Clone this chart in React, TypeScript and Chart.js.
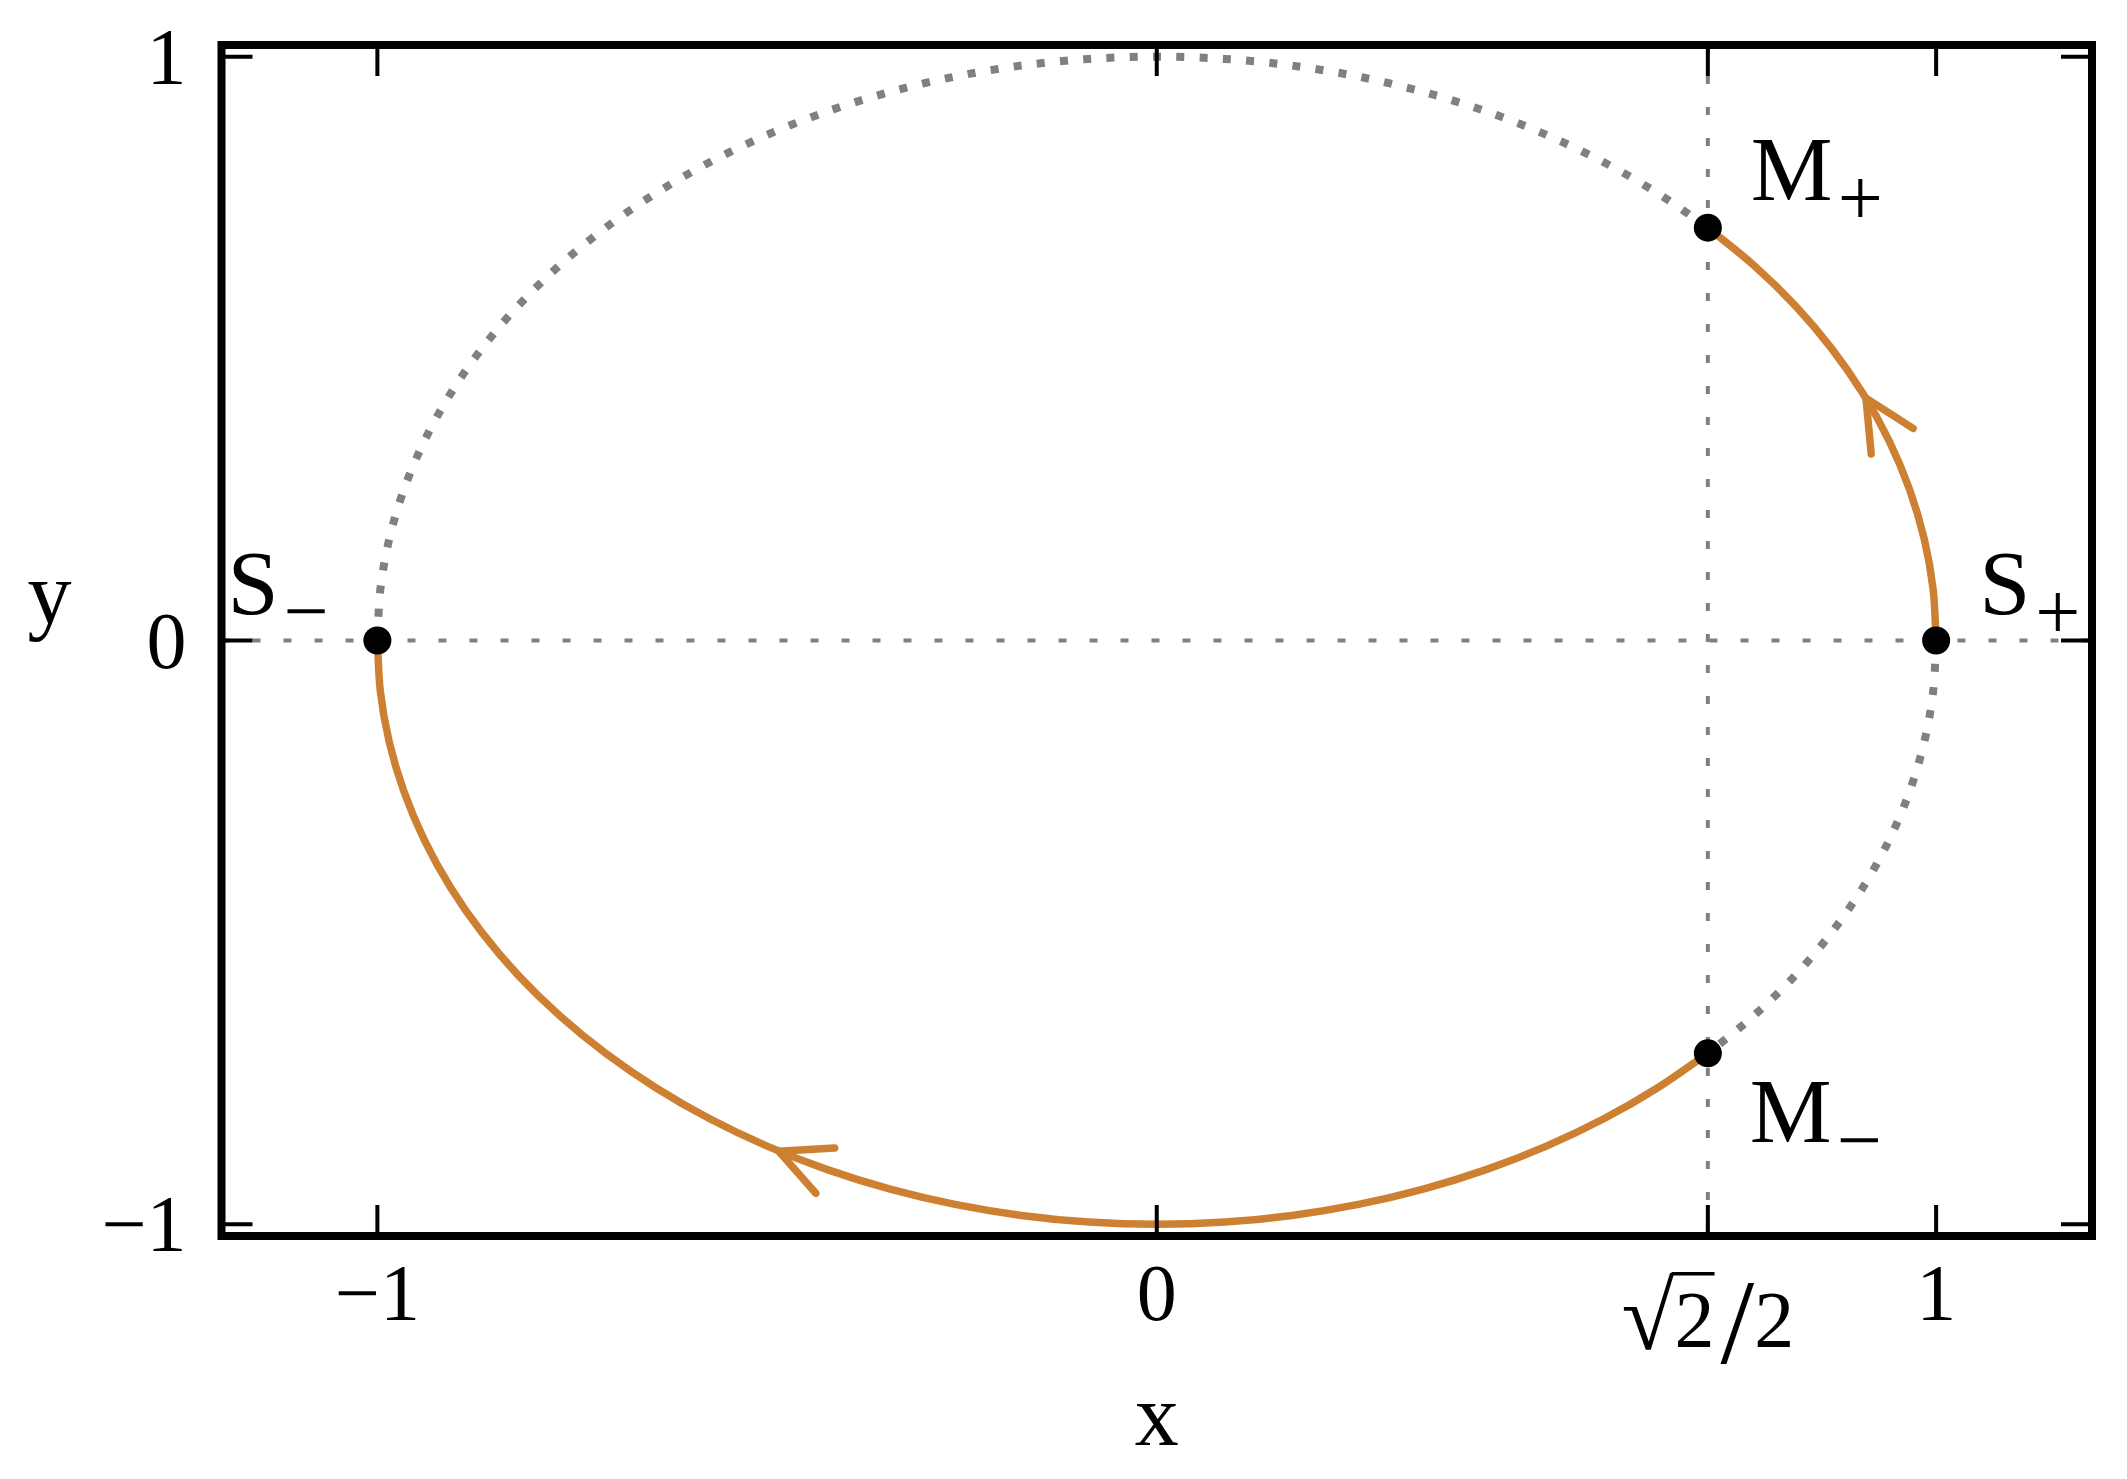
import React, { useEffect, useRef } from "react";
import { Chart, registerables } from "chart.js";

Chart.register(...registerables);

const W = 2127;
const H = 1479;

// ---------- data ----------
// orange trajectory S+ -> M+
const orangeUpperX = [1, 0.9962, 0.9848, 0.9659, 0.9397, 0.9063, 0.866, 0.8192, 0.766, 0.7071];
const orangeUpperY = [0, 0.0872, 0.1736, 0.2588, 0.342, 0.4226, 0.5, 0.5736, 0.6428, 0.7071];
// orange trajectory M- -> S-
const orangeLowerX = [
  0.7071, 0.6428, 0.5736, 0.5, 0.4226, 0.342, 0.2588, 0.1736, 0.0872, 0, -0.0872, -0.1736, -0.2588, -0.342,
  -0.4226, -0.5, -0.5736, -0.6428, -0.7071, -0.766, -0.8192, -0.866, -0.9063, -0.9397, -0.9659, -0.9848, -0.9962, -1,
];
const orangeLowerY = [
  -0.7071, -0.766, -0.8192, -0.866, -0.9063, -0.9397, -0.9659, -0.9848, -0.9962, -1, -0.9962, -0.9848, -0.9659,
  -0.9397, -0.9063, -0.866, -0.8192, -0.766, -0.7071, -0.6428, -0.5736, -0.5, -0.4226, -0.342, -0.2588, -0.1736,
  -0.0872, 0,
];
// dotted circle M+ -> S-
const dottedUpperX = [
  0.7071, 0.6428, 0.5736, 0.5, 0.4226, 0.342, 0.2588, 0.1736, 0.0872, 0, -0.0872, -0.1736, -0.2588, -0.342,
  -0.4226, -0.5, -0.5736, -0.6428, -0.7071, -0.766, -0.8192, -0.866, -0.9063, -0.9397, -0.9659, -0.9848, -0.9962, -1,
];
const dottedUpperY = [
  0.7071, 0.766, 0.8192, 0.866, 0.9063, 0.9397, 0.9659, 0.9848, 0.9962, 1, 0.9962, 0.9848, 0.9659, 0.9397, 0.9063,
  0.866, 0.8192, 0.766, 0.7071, 0.6428, 0.5736, 0.5, 0.4226, 0.342, 0.2588, 0.1736, 0.0872, 0,
];
// dotted circle S+ -> M-
const dottedLowerX = [1, 0.9962, 0.9848, 0.9659, 0.9397, 0.9063, 0.866, 0.8192, 0.766, 0.7071];
const dottedLowerY = [0, -0.0872, -0.1736, -0.2588, -0.342, -0.4226, -0.5, -0.5736, -0.6428, -0.7071];

// fixed points
const pointX = [1, 0.7071, -1, 0.7071];
const pointY = [0, 0.7071, 0, -0.7071];
const pointNames = ["S", "M", "S", "M"];
const pointSubs = ["+", "+", "\u2212", "\u2212"];

// arrow tips on the trajectories (sense: +1 counter-clockwise, -1 clockwise)
const arrowX = [0.91, -0.485];
const arrowY = [0.415, -0.875];
const arrowSense = [1, -1];

// reference lines
const refLineY = 0;
const refLineX = 0.7071;

// axes
const X_MIN = -1.2;
const X_MAX = 1.2;
const Y_MIN = -1.02;
const Y_MAX = 1.02;
const xTickValues = [-1, 0, 0.7071, 1];
const xTickLabels = ["\u22121", "0", "SQRT", "1"];
const yTickValues = [-1, 0, 1];
const yTickLabels = ["\u22121", "0", "1"];
const xAxisTitle = "x";
const yAxisTitle = "y";

// ---------- styles ----------
const ORANGE = "rgb(205,128,50)";
const GRAY = "rgb(128,128,128)";
const FONT = '"Liberation Serif", "DejaVu Serif", serif';
const TICK_FONT = 80;
const LABEL_OFFSETS = [
  { dx: 43, dy: -27 },
  { dx: 43, dy: -28 },
  { dx: -150, dy: -27 },
  { dx: 42, dy: 89 },
];

const pts = (xs: number[], ys: number[]) => xs.map((x, i) => ({ x, y: ys[i] }));

function drawSqrtLabel(ctx: CanvasRenderingContext2D, cx: number, baseline: number) {
  ctx.save();
  ctx.textAlign = "left";
  ctx.textBaseline = "alphabetic";
  ctx.font = `${TICK_FONT}px ${FONT}`;
  const w2 = ctx.measureText("2").width;
  // radical
  ctx.font = `100px ${FONT}`;
  const m0 = ctx.measureText("\u221A");
  const h0 = m0.actualBoundingBoxAscent + m0.actualBoundingBoxDescent;
  const rs = (100 * 78) / h0;
  ctx.font = `${rs}px ${FONT}`;
  const mr = ctx.measureText("\u221A");
  const wR = mr.actualBoundingBoxRight;
  // slash
  ctx.font = `100px ${FONT}`;
  const s0 = ctx.measureText("/");
  const hs0 = s0.actualBoundingBoxAscent + s0.actualBoundingBoxDescent;
  const ss = (100 * 81) / hs0;
  ctx.font = `${ss}px ${FONT}`;
  const ms = ctx.measureText("/");
  const wS = ms.width;

  const total = wR + w2 + 6 + wS + w2;
  let x = cx - total / 2;
  ctx.font = `${rs}px ${FONT}`;
  const radBase = baseline + 3 - mr.actualBoundingBoxDescent;
  ctx.fillText("\u221A", x, radBase);
  const topY = radBase - mr.actualBoundingBoxAscent;
  x += wR;
  ctx.fillRect(x - 3, topY, w2 + 3, 3.5);
  ctx.font = `${TICK_FONT}px ${FONT}`;
  ctx.fillText("2", x, baseline);
  x += w2 + 6;
  ctx.font = `${ss}px ${FONT}`;
  const slashBase = baseline + 17 - ms.actualBoundingBoxDescent;
  ctx.fillText("/", x, slashBase);
  x += wS;
  ctx.font = `${TICK_FONT}px ${FONT}`;
  ctx.fillText("2", x, baseline);
  ctx.restore();
}

export default function App() {
  const ref = useRef<HTMLCanvasElement>(null);

  useEffect(() => {
    const canvas = ref.current;
    if (!canvas) return;

    const decor = {
      id: "decor",
      afterDatasetsDraw(chart: any) {
        const ctx: CanvasRenderingContext2D = chart.ctx;
        const xs = chart.scales.x;
        const ys = chart.scales.y;
        ctx.save();
        ctx.strokeStyle = ORANGE;
        ctx.lineWidth = 7.5;
        ctx.lineCap = "round";
        arrowX.forEach((x, i) => {
          const y = arrowY[i];
          const s = arrowSense[i];
          const dx = -y * s;
          const dy = x * s;
          const tx = xs.getPixelForValue(x);
          const ty = ys.getPixelForValue(y);
          const ux = xs.getPixelForValue(x + dx * 0.01) - tx;
          const uy = ys.getPixelForValue(y + dy * 0.01) - ty;
          const L = Math.hypot(ux, uy);
          const bx = -ux / L;
          const by = -uy / L;
          ctx.beginPath();
          for (const deg of [26, -26]) {
            const a = (deg * Math.PI) / 180;
            const rx = bx * Math.cos(a) - by * Math.sin(a);
            const ry = bx * Math.sin(a) + by * Math.cos(a);
            ctx.moveTo(tx, ty);
            ctx.lineTo(tx + 56 * rx, ty + 56 * ry);
          }
          ctx.stroke();
        });
        ctx.restore();
      },
      afterDraw(chart: any) {
        const ctx: CanvasRenderingContext2D = chart.ctx;
        const { left, right, top, bottom } = chart.chartArea;
        const xs = chart.scales.x;
        const ys = chart.scales.y;
        ctx.save();
        // frame
        ctx.strokeStyle = "#000";
        ctx.lineWidth = 8;
        ctx.lineJoin = "miter";
        ctx.strokeRect(left, top, right - left, bottom - top);
        // ticks
        ctx.lineWidth = 4;
        ctx.beginPath();
        xTickValues.forEach((v) => {
          const px = xs.getPixelForValue(v);
          ctx.moveTo(px, bottom);
          ctx.lineTo(px, bottom - 31);
          ctx.moveTo(px, top);
          ctx.lineTo(px, top + 31);
        });
        yTickValues.forEach((v) => {
          const py = ys.getPixelForValue(v);
          ctx.moveTo(left, py);
          ctx.lineTo(left + 31, py);
          ctx.moveTo(right, py);
          ctx.lineTo(right - 31, py);
        });
        ctx.stroke();

        // tick labels
        ctx.fillStyle = "#000";
        ctx.textBaseline = "alphabetic";
        xTickValues.forEach((v, i) => {
          const px = xs.getPixelForValue(v);
          if (xTickLabels[i] === "SQRT") {
            drawSqrtLabel(ctx, px, bottom + 111);
          } else {
            ctx.font = `${TICK_FONT}px ${FONT}`;
            ctx.textAlign = "center";
            ctx.fillText(xTickLabels[i], px, bottom + 84);
          }
        });
        ctx.font = `${TICK_FONT}px ${FONT}`;
        ctx.textAlign = "right";
        yTickValues.forEach((v, i) => {
          const py = ys.getPixelForValue(v);
          ctx.fillText(yTickLabels[i], left - 35, py + 27);
        });

        // axis titles
        ctx.font = `88px ${FONT}`;
        ctx.textAlign = "center";
        ctx.fillText(xAxisTitle, xs.getPixelForValue(0), bottom + 209);
        ctx.fillText(yAxisTitle, left - 172, ys.getPixelForValue(0) - 18);

        // point labels
        pointX.forEach((x, i) => {
          const px = xs.getPixelForValue(x);
          const py = ys.getPixelForValue(pointY[i]);
          const o = LABEL_OFFSETS[i];
          ctx.textAlign = "left";
          ctx.font = `92px ${FONT}`;
          ctx.fillText(pointNames[i], px + o.dx, py + o.dy);
          const w = ctx.measureText(pointNames[i]).width;
          ctx.font = `80px ${FONT}`;
          const m = ctx.measureText(pointSubs[i]);
          const c = (m.actualBoundingBoxAscent - m.actualBoundingBoxDescent) / 2;
          ctx.fillText(pointSubs[i], px + o.dx + w + 5, py + o.dy - 2 + c);
        });
        ctx.restore();
      },
    };

    const curve = (xs: number[], ys: number[], color: string, width: number, dash: number[], order: number) => ({
      data: pts(xs, ys),
      order,
      showLine: true,
      borderColor: color,
      borderWidth: width,
      borderDash: dash,
      borderCapStyle: "butt",
      tension: 0.33,
      pointRadius: 0,
    });

    const chart = new Chart(canvas, {
      type: "scatter",
      data: {
        datasets: [
          {
            data: pts(pointX, pointY),
            order: 0,
            showLine: false,
            pointRadius: 14,
            pointBackgroundColor: "#000",
            pointBorderWidth: 0,
            pointBorderColor: "#000",
          },
          curve(orangeUpperX, orangeUpperY, ORANGE, 7.5, [], 1),
          curve(orangeLowerX, orangeLowerY, ORANGE, 7.5, [], 1),
          curve(dottedUpperX, dottedUpperY, GRAY, 8, [8, 15.3], 2),
          curve(dottedLowerX, dottedLowerY, GRAY, 8, [8, 15.3], 2),
          {
            data: [
              { x: X_MIN, y: refLineY },
              { x: X_MAX, y: refLineY },
            ],
            order: 3,
            showLine: true,
            borderColor: GRAY,
            borderWidth: 4,
            borderDash: [8, 23],
            pointRadius: 0,
          },
          {
            data: [
              { x: refLineX, y: Y_MAX },
              { x: refLineX, y: Y_MIN },
            ],
            order: 3,
            showLine: true,
            borderColor: GRAY,
            borderWidth: 4,
            borderDash: [8, 23],
            pointRadius: 0,
          },
        ],
      },
      options: {
        responsive: false,
        animation: false,
        events: [],
        layout: { padding: { left: 221.5, right: 35, top: 45, bottom: 243 } },
        plugins: {
          legend: { display: false },
          tooltip: { enabled: false },
        },
        scales: {
          x: { type: "linear", min: X_MIN, max: X_MAX, display: false },
          y: { type: "linear", min: Y_MIN, max: Y_MAX, display: false },
        },
      } as any,
      plugins: [decor],
    } as any);

    return () => chart.destroy();
  }, []);

  return (
    <div style={{ position: "fixed", left: 0, top: 0, width: W, height: H, background: "#fff" }}>
      <canvas ref={ref} width={W} height={H} style={{ display: "block", width: W, height: H }} />
    </div>
  );
}
